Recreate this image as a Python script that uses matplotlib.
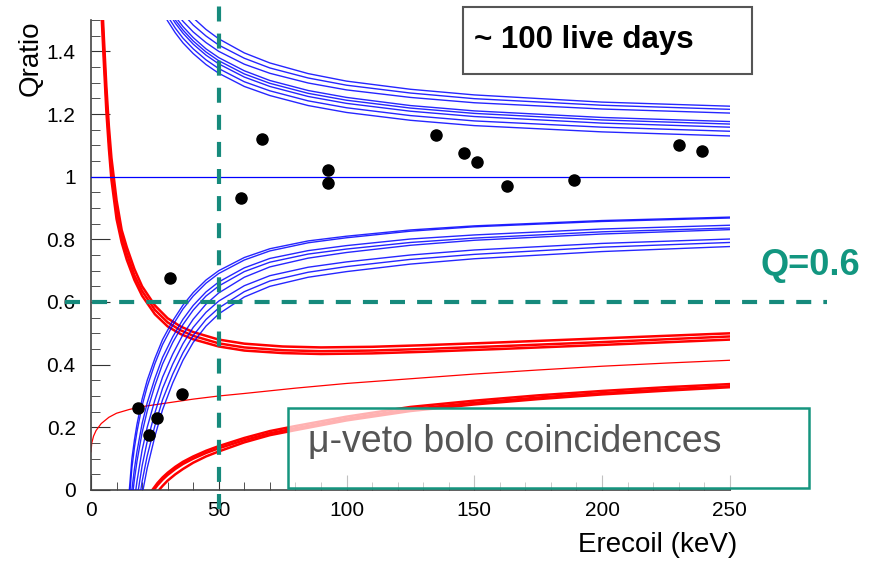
import matplotlib.pyplot as plt
from matplotlib.patches import Rectangle
from matplotlib.ticker import MultipleLocator, FuncFormatter

plt.rcParams['font.family'] = ['Liberation Sans', 'DejaVu Sans']

# electron recoil band, upper edges (one curve per detector)
blue_up_x = [28, 30, 33, 36, 40, 45, 50, 60, 70, 85, 100, 125, 150, 200, 250]
blue_up = [
    [1.651, 1.619, 1.578, 1.544, 1.507, 1.470, 1.440, 1.395, 1.363, 1.329, 1.305, 1.279, 1.261, 1.238, 1.225],
    [1.621, 1.591, 1.552, 1.520, 1.484, 1.449, 1.420, 1.378, 1.347, 1.315, 1.292, 1.267, 1.249, 1.228, 1.215],
    [1.594, 1.564, 1.527, 1.496, 1.462, 1.428, 1.400, 1.359, 1.330, 1.299, 1.277, 1.253, 1.236, 1.216, 1.203],
    [1.580, 1.550, 1.511, 1.479, 1.444, 1.408, 1.380, 1.338, 1.307, 1.275, 1.253, 1.227, 1.210, 1.189, 1.176],
    [1.569, 1.539, 1.500, 1.468, 1.433, 1.398, 1.370, 1.328, 1.298, 1.266, 1.244, 1.219, 1.202, 1.181, 1.168],
    [1.559, 1.529, 1.490, 1.458, 1.423, 1.388, 1.360, 1.318, 1.288, 1.256, 1.234, 1.209, 1.192, 1.171, 1.158],
    [1.541, 1.512, 1.474, 1.442, 1.408, 1.373, 1.345, 1.303, 1.274, 1.242, 1.220, 1.195, 1.178, 1.158, 1.145],
    [1.526, 1.497, 1.459, 1.427, 1.393, 1.358, 1.330, 1.288, 1.259, 1.227, 1.205, 1.180, 1.163, 1.143, 1.130],
]

# electron recoil band, lower edges
blue_lo_x = [15, 16, 17, 18, 20, 22, 25, 28, 32, 36, 40, 45, 50, 60, 70, 85, 100, 125, 150, 200, 250]
blue_lo = [
    [0.0, 0.10, 0.16, 0.21, 0.29, 0.35, 0.42, 0.48, 0.54, 0.59, 0.63, 0.67, 0.70, 0.742, 0.77, 0.795, 0.81, 0.83, 0.843, 0.86, 0.871],
    [-0.03, 0.07, 0.135, 0.186, 0.269, 0.33, 0.403, 0.464, 0.526, 0.578, 0.619, 0.66, 0.691, 0.734, 0.763, 0.789, 0.805, 0.826, 0.84, 0.857, 0.868],
    [-0.077, 0.001, 0.068, 0.123, 0.212, 0.278, 0.356, 0.423, 0.489, 0.545, 0.589, 0.632, 0.664, 0.709, 0.739, 0.764, 0.78, 0.801, 0.814, 0.833, 0.845],
    [-0.116, -0.035, 0.034, 0.091, 0.183, 0.252, 0.333, 0.402, 0.471, 0.528, 0.574, 0.619, 0.651, 0.697, 0.727, 0.753, 0.769, 0.79, 0.804, 0.824, 0.836],
    [-0.193, -0.107, -0.033, 0.028, 0.127, 0.20, 0.287, 0.36, 0.434, 0.496, 0.545, 0.593, 0.629, 0.679, 0.712, 0.74, 0.758, 0.781, 0.797, 0.817, 0.831],
    [-0.261, -0.17, -0.092, -0.027, 0.077, 0.155, 0.246, 0.324, 0.402, 0.467, 0.519, 0.567, 0.603, 0.652, 0.684, 0.711, 0.728, 0.75, 0.766, 0.787, 0.801],
    [-0.329, -0.233, -0.151, -0.082, 0.027, 0.109, 0.205, 0.288, 0.37, 0.438, 0.493, 0.544, 0.581, 0.633, 0.667, 0.695, 0.713, 0.736, 0.752, 0.775, 0.79],
    [-0.387, -0.287, -0.201, -0.13, -0.015, 0.07, 0.171, 0.256, 0.342, 0.414, 0.471, 0.523, 0.562, 0.616, 0.65, 0.679, 0.697, 0.721, 0.738, 0.761, 0.777],
]

# nuclear recoil band
red_up_x = [4, 5, 6, 7, 8, 10, 12, 14, 17, 20, 25, 30, 35, 40, 50, 60, 75, 90, 110, 130, 160, 200, 250]
red_up = [
    [1.62, 1.45, 1.29, 1.16, 1.06, 0.925, 0.83, 0.775, 0.705, 0.65, 0.589, 0.548, 0.522, 0.504, 0.48, 0.467, 0.458, 0.455, 0.457, 0.462, 0.471, 0.484, 0.50],
    [1.58, 1.41, 1.25, 1.12, 1.02, 0.895, 0.81, 0.755, 0.685, 0.635, 0.575, 0.535, 0.51, 0.492, 0.468, 0.455, 0.446, 0.443, 0.445, 0.45, 0.459, 0.472, 0.49],
    [1.54, 1.37, 1.21, 1.09, 0.99, 0.865, 0.79, 0.735, 0.67, 0.62, 0.561, 0.522, 0.498, 0.481, 0.458, 0.445, 0.437, 0.434, 0.436, 0.441, 0.45, 0.463, 0.48],
]
red_mid_x = [0, 0.3, 1, 2, 4, 7, 10, 15, 20, 30, 40, 50, 60, 80, 100, 125, 150, 175, 200, 225, 250]
red_mid = [0.122, 0.15, 0.172, 0.19, 0.212, 0.232, 0.245, 0.257, 0.266, 0.278, 0.29, 0.30, 0.308, 0.325, 0.34, 0.355, 0.37, 0.383, 0.395, 0.405, 0.414]
red_lo_x = [24, 26, 28, 30, 33, 36, 40, 45, 50, 60, 70, 80, 100, 125, 150, 175, 200, 225, 250]
red_lo = [
    [0.0, 0.022, 0.04, 0.055, 0.074, 0.09, 0.107, 0.125, 0.14, 0.166, 0.188, 0.204, 0.234, 0.265, 0.285, 0.302, 0.316, 0.328, 0.338],
    [-0.007, 0.015, 0.033, 0.048, 0.067, 0.083, 0.100, 0.118, 0.133, 0.159, 0.181, 0.197, 0.227, 0.258, 0.278, 0.295, 0.309, 0.321, 0.331],
    [-0.03, -0.006, 0.013, 0.03, 0.05, 0.067, 0.087, 0.107, 0.123, 0.152, 0.175, 0.191, 0.222, 0.252, 0.273, 0.290, 0.305, 0.317, 0.328],
]

# coincidence events
evt_e = [18.5, 22.7, 25.8, 30.8, 35.7, 58.7, 66.9, 92.7, 92.7, 135, 146, 151, 163, 189, 230, 239]
evt_q = [0.263, 0.174, 0.231, 0.676, 0.305, 0.933, 1.121, 1.022, 0.981, 1.134, 1.077, 1.048, 0.971, 0.990, 1.102, 1.083]

teal = '#168a7c'

fig = plt.figure(figsize=(8.75, 5.61), dpi=100)
ax = fig.add_axes([0.104, 0.1266, 0.73, 0.8377])

for y in red_up:
    ax.plot(red_up_x, y, color='#ff0000', lw=1.8, zorder=2)
for y in red_lo:
    ax.plot(red_lo_x, y, color='#ff0000', lw=1.8, zorder=2)
ax.plot(red_mid_x, red_mid, color='#ff0000', lw=0.9, zorder=2)

for y in blue_up:
    ax.plot(blue_up_x, y, color='#0000ff', lw=1.0, alpha=0.85, zorder=3)
for y in blue_lo:
    ax.plot(blue_lo_x, y, color='#0000ff', lw=1.0, alpha=0.85, zorder=3)
ax.plot([0, 250], [1, 1], color='#0000ff', lw=0.9, zorder=3)

ax.plot(evt_e, evt_q, 'o', color='black', ms=8, zorder=5)

# Q=0.6 and 50 keV threshold lines, running past the frame
ax.plot([-10, 288], [0.6, 0.6], color=teal, lw=3, dashes=(3.6, 2.9), clip_on=False, zorder=6)
ax.plot([50, 50], [-0.06, 1.6], color=teal, lw=3, dashes=(3.6, 2.9), clip_on=False, zorder=6)

ax.set_xlim(0, 250)
ax.set_ylim(0, 1.5)
for s in ['top', 'right']:
    ax.spines[s].set_visible(False)
for s in ['left', 'bottom']:
    ax.spines[s].set_color('#444444')
    ax.spines[s].set_linewidth(1.2)

ax.xaxis.set_major_locator(MultipleLocator(50))
ax.xaxis.set_minor_locator(MultipleLocator(10))
ax.yaxis.set_major_locator(MultipleLocator(0.2))
ax.yaxis.set_minor_locator(MultipleLocator(0.05))
ax.yaxis.set_major_formatter(FuncFormatter(lambda v, p: '%g' % round(v, 2)))
ax.tick_params(axis='both', which='both', direction='in', color='#333333', labelsize=15)
ax.tick_params(axis='y', which='major', length=13.5, pad=11)
ax.tick_params(axis='y', which='minor', length=6.5)
ax.tick_params(axis='x', which='major', length=11, pad=8)
ax.tick_params(axis='x', which='minor', length=5.5)

fig.text(0.035, 0.964, 'Qratio', rotation=90, ha='center', va='top', fontsize=20)
fig.text(0.843, 0.028, 'Erecoil (keV)', ha='right', va='center', fontsize=20)

# boxed annotations
fig.patches.append(Rectangle((0.529, 0.868), 0.330, 0.119, transform=fig.transFigure,
                             facecolor='white', edgecolor='#555555', lw=1.5, zorder=7))
fig.text(0.542, 0.929, '~ 100 live days', fontsize=22.5, fontweight='bold', va='center', zorder=8)

fig.patches.append(Rectangle((0.329, 0.130), 0.595, 0.1426, transform=fig.transFigure,
                             facecolor=(1, 1, 1, 0.7), edgecolor='#15957f', lw=1.8, zorder=7))
fig.text(0.352, 0.212, 'μ-veto bolo coincidences', fontsize=27, color='#555555', va='center', zorder=8)

fig.text(0.869, 0.5276, 'Q=0.6', fontsize=26, fontweight='bold', color='#129680', va='center')

fig.savefig('out.png', dpi=100)
